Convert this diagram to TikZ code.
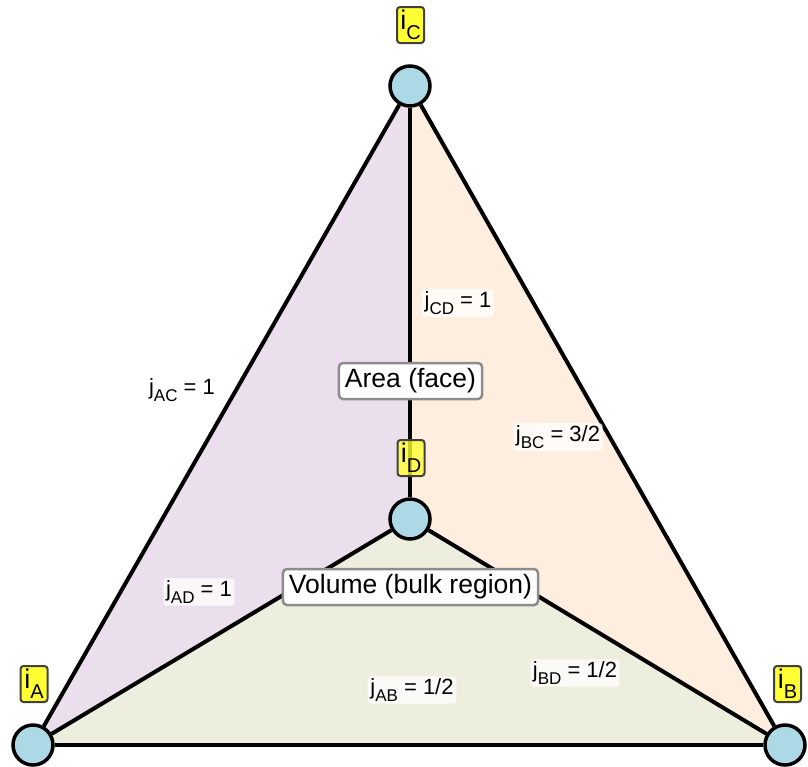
\documentclass[tikz,border=0pt]{standalone}
\usepackage{fontspec}
\setmainfont{Liberation Sans}
\definecolor{faceL}{RGB}{236,223,237}
\definecolor{faceR}{RGB}{254,238,223}
\definecolor{faceB}{RGB}{238,238,223}
\definecolor{vblue}{RGB}{173,216,230}
\definecolor{ylw}{RGB}{255,255,51}
\newcommand\jsub[1]{\raisebox{-6.5pt}{\fontsize{17}{17}\selectfont #1}}
\newcommand\isub[1]{\raisebox{-10pt}{\fontsize{20}{20}\selectfont #1}}
\begin{document}
\begin{tikzpicture}[x=1pt,y=-1pt,
  vert/.style={circle,draw=black,line width=3.5pt,fill=vblue,minimum size=40pt,inner sep=0pt},
  edge/.style={line width=4pt,draw=black},
  ibox/.style={draw=black!75,line width=2pt,fill=ylw,rounded corners=3pt,minimum width=27pt,minimum height=36pt,inner sep=1pt,font=\fontsize{27}{27}\selectfont},
  jlab/.style={fill=white,fill opacity=0.75,text opacity=1,rounded corners=3pt,inner sep=2.5pt,font=\fontsize{22}{24}\selectfont},
  tbox/.style={draw=black!45,line width=2.5pt,fill=white,rounded corners=4pt,inner xsep=6pt,inner ysep=4pt,minimum height=36pt,font=\fontsize{26.5}{28}\selectfont}]
\useasboundingbox (0,0) rectangle (808,766);
\coordinate (A) at (33,745);
\coordinate (B) at (785,745);
\coordinate (C) at (410,86);
\coordinate (D) at (410,519);
\fill[faceL] (A) -- (C) -- (D) -- cycle;
\fill[faceR] (C) -- (B) -- (D) -- cycle;
\fill[faceB] (A) -- (B) -- (D) -- cycle;
\node[vert] (vA) at (A) {};
\node[vert] (vB) at (B) {};
\node[vert] (vC) at (C) {};
\node[vert] (vD) at (D) {};
\draw[edge] (vA) -- (vC);
\draw[edge] (vC) -- (vB);
\draw[edge] (vA) -- (vB);
\draw[edge] (vA) -- (vD);
\draw[edge] (vB) -- (vD);
\draw[edge] (vC) -- (vD);
\node[ibox] (iC) at (410.5,25) {i\isub{C}};
\node[ibox] (iA) at (34,684) {i\isub{A}};
\node[ibox] (iB) at (787.5,684) {i\isub{B}};
\node[ibox,fill opacity=0.8,text opacity=1] (iD) at (411,458) {i\isub{D}};
\node[tbox] (area) at (410.5,381) {Area (face)};
\node[tbox] (vol) at (410.5,587) {Volume (bulk region)};
\node[jlab] (jAC) at (182,390) {j\jsub{AC} = 1};
\node[jlab] (jCD) at (458,303) {j\jsub{CD} = 1};
\node[jlab] (jBC) at (558,437) {j\jsub{BC} = 3/2};
\node[jlab] (jAD) at (199,592) {j\jsub{AD} = 1};
\node[jlab] (jAB) at (412,690) {j\jsub{AB} = 1/2};
\node[jlab] (jBD) at (575,673) {j\jsub{BD} = 1/2};
\end{tikzpicture}
\end{document}
